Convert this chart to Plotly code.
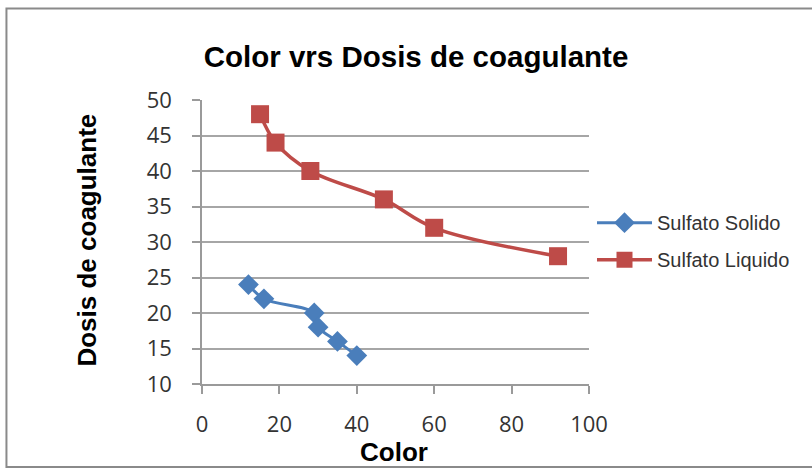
import plotly.graph_objects as go

solido_x = [12, 16, 29, 30, 35, 40]
solido_y = [24, 22, 20, 18, 16, 14]
liquido_x = [15, 19, 28, 47, 60, 92]
liquido_y = [48, 44, 40, 36, 32, 28]
series_names = ["Sulfato Solido", "Sulfato Liquido"]
x_ticks = [0, 20, 40, 60, 80, 100]
y_ticks = [10, 15, 20, 25, 30, 35, 40, 45, 50]
title_text = "Color vrs Dosis de coagulante"
x_title = "Color"
y_title = "Dosis de coagulante"

W, H = 812, 470
L, R, T, B = 201.7, 589.0, 99.7, 384.0

def px(xp):
    return (xp - L) / (R - L)

def py(yp):
    return (B - yp) / (B - T)

fig = go.Figure()
fig.add_trace(go.Scatter(
    x=solido_x, y=solido_y, name=series_names[0], mode="lines+markers",
    line=dict(color="#4A7EBB", width=3, shape="spline"),
    marker=dict(symbol="diamond", size=16, color="#4A7EBB"),
    legendgroup="a",
))
fig.add_trace(go.Scatter(
    x=liquido_x, y=liquido_y, name=series_names[1], mode="lines+markers",
    line=dict(color="#BE4B48", width=3.5, shape="spline"),
    marker=dict(symbol="square", size=18, color="#BE4B48"),
    legendgroup="b",
))

axis_font = dict(family="Open Sans, Liberation Sans, Arial", size=22, color="#333333")
fig.update_xaxes(
    range=[0, 100], tickvals=x_ticks, showgrid=False, zeroline=False,
    showline=True, linecolor="#9a9a9a", linewidth=1.5,
    ticks="outside", ticklen=8, tickcolor="#9a9a9a", tickwidth=1.5,
    tickfont=axis_font, ticklabelstandoff=12,
)
fig.update_yaxes(
    range=[10, 50], tickvals=y_ticks, showgrid=True, gridcolor="#a6a6a6", gridwidth=1.5,
    zeroline=False, showline=True, linecolor="#9a9a9a", linewidth=1.5,
    ticks="outside", ticklen=8, tickcolor="#9a9a9a", tickwidth=1.5,
    tickfont=axis_font, ticklabelstandoff=16,
)

fig.add_shape(type="rect", xref="paper", yref="paper",
              x0=px(6), x1=px(830), y0=py(467), y1=py(8),
              line=dict(color="#8a8a8a", width=2), fillcolor="rgba(0,0,0,0)", layer="below")

bold = dict(family="Liberation Sans, Arial", size=26, color="#000000")
fig.add_annotation(text="<b>%s</b>" % x_title, xref="paper", yref="paper",
                   x=px(394), y=py(452), showarrow=False, font=bold,
                   xanchor="center", yanchor="middle")
fig.add_annotation(text="<b>%s</b>" % y_title, xref="paper", yref="paper",
                   x=px(87), y=py(240), showarrow=False, font=bold, textangle=-90,
                   xanchor="center", yanchor="middle")

fig.update_layout(
    width=W, height=H,
    margin=dict(l=L, r=W - R, t=T, b=H - B),
    paper_bgcolor="white", plot_bgcolor="white",
    title=dict(text="<b>%s</b>" % title_text, x=416 / W, xanchor="center",
               y=1 - 57 / H, yanchor="middle", yref="container",
               font=dict(family="Liberation Sans, Arial", size=29.5, color="#000000")),
    legend=dict(x=px(592), y=py(241), xanchor="left", yanchor="middle",
                font=dict(family="Liberation Sans, Arial", size=20, color="#333333"),
                itemwidth=55,
                tracegroupgap=8, traceorder="grouped", bgcolor="rgba(0,0,0,0)"),
    showlegend=True,
)

fig.write_html("out.html")
